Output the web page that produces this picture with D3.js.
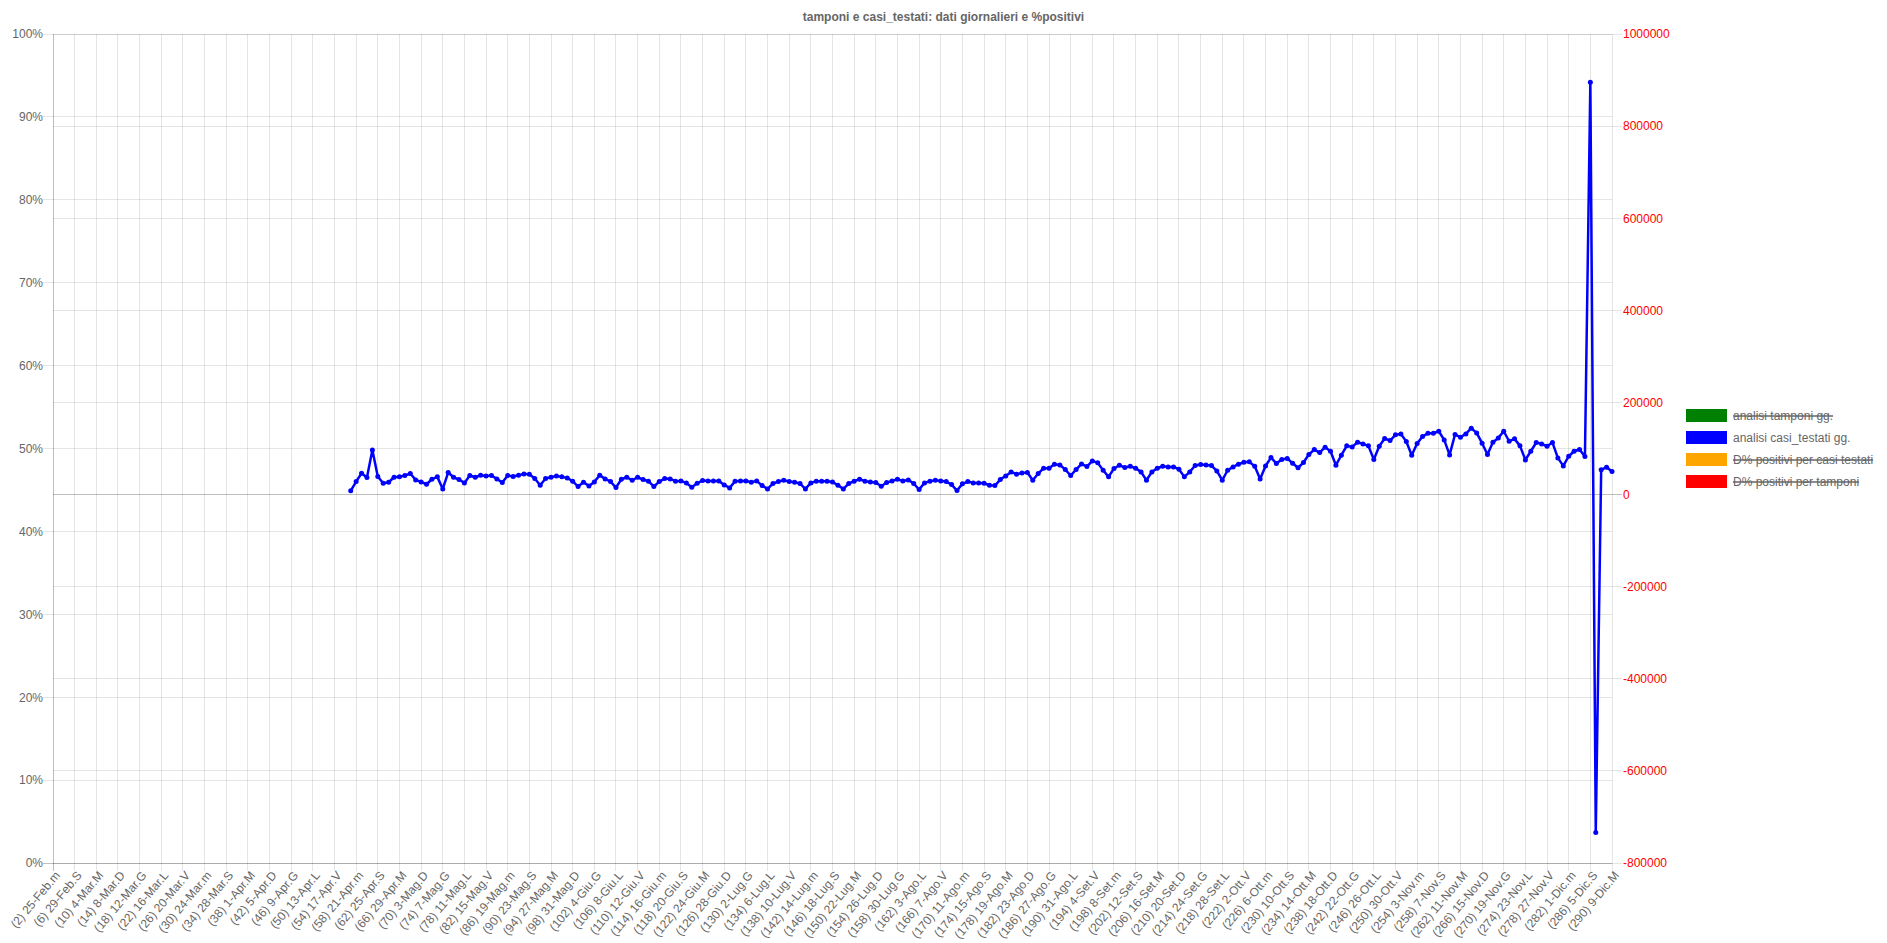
<!DOCTYPE html>
<html><head><meta charset="utf-8">
<script src="https://cdn.jsdelivr.net/npm/d3@7"></script>
<style>body{margin:0;background:#fff}svg{display:block;font-family:"Liberation Sans",Arial,Helvetica,sans-serif}</style>
</head><body><svg id="c" width="1887" height="943"></svg>
<script>
const title = "tamponi e casi_testati: dati giornalieri e %positivi";
const categories = d3.range(2, 291); // day numbers (2)..(290)
const tickLabels = ["(2) 25-Feb.m","(6) 29-Feb.S","(10) 4-Mar.M","(14) 8-Mar.D","(18) 12-Mar.G","(22) 16-Mar.L","(26) 20-Mar.V","(30) 24-Mar.m","(34) 28-Mar.S","(38) 1-Apr.M","(42) 5-Apr.D","(46) 9-Apr.G","(50) 13-Apr.L","(54) 17-Apr.V","(58) 21-Apr.m","(62) 25-Apr.S","(66) 29-Apr.M","(70) 3-Mag.D","(74) 7-Mag.G","(78) 11-Mag.L","(82) 15-Mag.V","(86) 19-Mag.m","(90) 23-Mag.S","(94) 27-Mag.M","(98) 31-Mag.D","(102) 4-Giu.G","(106) 8-Giu.L","(110) 12-Giu.V","(114) 16-Giu.m","(118) 20-Giu.S","(122) 24-Giu.M","(126) 28-Giu.D","(130) 2-Lug.G","(134) 6-Lug.L","(138) 10-Lug.V","(142) 14-Lug.m","(146) 18-Lug.S","(150) 22-Lug.M","(154) 26-Lug.D","(158) 30-Lug.G","(162) 3-Ago.L","(166) 7-Ago.V","(170) 11-Ago.m","(174) 15-Ago.S","(178) 19-Ago.M","(182) 23-Ago.D","(186) 27-Ago.G","(190) 31-Ago.L","(194) 4-Set.V","(198) 8-Set.m","(202) 12-Set.S","(206) 16-Set.M","(210) 20-Set.D","(214) 24-Set.G","(218) 28-Set.L","(222) 2-Ott.V","(226) 6-Ott.m","(230) 10-Ott.S","(234) 14-Ott.M","(238) 18-Ott.D","(242) 22-Ott.G","(246) 26-Ott.L","(250) 30-Ott.V","(254) 3-Nov.m","(258) 7-Nov.S","(262) 11-Nov.M","(266) 15-Nov.D","(270) 19-Nov.G","(274) 23-Nov.L","(278) 27-Nov.V","(282) 1-Dic.m","(286) 5-Dic.S","(290) 9-Dic.M"];
const leftTicks = [0,0.1,0.2,0.3,0.4,0.5,0.6,0.7,0.8,0.9,1];
const rightTicks = [-800000,-600000,-400000,-200000,0,200000,400000,600000,800000,1000000];
const casiStartDay = 57;
const casiTestati = [
8000,28200,46300,36900,97000,39100,24600,26800,37600,38400,
41300,45600,31800,27500,22400,33300,38400,12300,47800,37600,
32600,25300,41300,37600,42000,40500,41300,34000,26100,41300,
39100,42000,44900,44200,34700,20300,34700,37600,40500,38400,
36200,29000,17400,26800,18800,27500,42000,34000,28200,15200,
33300,37600,31100,37600,32600,29000,17400,28200,34700,34000,
29000,29700,25300,15900,24600,30400,29700,29700,29700,21000,
14500,29000,29700,29700,26800,29700,19500,12300,23900,28200,
31100,28200,26800,23900,
12300,25300,29000,29000,29000,27500,20300,12300,23900,29000,
33300,29000,27500,26000,18100,26000,29700,33300,29700,31800,
23900,10900,25300,29000,31100,29700,28200,21700,8700,23200,
28200,25300,25300,24600,20300,19500,32600,40500,49200,44200,
47000,47800,31100,45600,57200,57200,65900,64400,54300,41300,
54300,66600,60800,73100,68800,52800,38400,56500,63700,58600,
61500,57200,49200,31100,49200,57200,61500,60100,60100,55000,
38400,49200,63000,65100,64400,63000,51400,31100,52800,60100,
65900,70200,
71000,61500,34000,62000,80300,67700,76300,78500,
68000,58200,69500,86900,97700,91200,102800,94100,63700,85400,
105700,103500,113600,110000,105700,76000,104900,121600,117300,129600,
131700,115100,85400,110700,125900,133200,133200,137500,118700,86100,
130300,124500,131700,144000,133900,111500,86900,113600,123000,137500,
115800,120900,105700,75300,94100,112900,110000,104900,112900,79600,
62200,83200,94100,97700,82500,895000,-734000,53600,59400,49900];
const legendItems = [
  {label:"analisi tamponi gg.", color:"#008000", hidden:true},
  {label:"analisi casi_testati gg.", color:"#0000ff", hidden:false},
  {label:"D% positivi per casi testati", color:"#ffa500", hidden:true},
  {label:"D% positivi per tamponi", color:"#ff0000", hidden:true}
];

const svg = d3.select("#c");
const L=53, R=1612, T=34, B=863;
const x = d3.scalePoint().domain(categories).range([L,R]);
const yL = d3.scaleLinear().domain([0,1]).range([B,T]);
const yR = d3.scaleLinear().domain([-800000,1000000]).range([B,T]);
const tickDays = tickLabels.map(s => +s.match(/\((\d+)\)/)[1]);
const labelOf = new Map(tickDays.map((d,i)=>[d,tickLabels[i]]));
const grid = "rgba(0,0,0,0.1)", zero = "rgba(0,0,0,0.25)";

// title
svg.append("text").attr("x",943.5).attr("y",21).attr("text-anchor","middle")
  .attr("font-size",12).attr("font-weight","bold").attr("fill","#666").text(title);

const g = svg.append("g");
// vertical grid
g.selectAll(".vg").data(tickDays).join("line")
  .attr("x1",d=>x(d)).attr("x2",d=>x(d)).attr("y1",T).attr("y2",B+8)
  .attr("stroke",(d,i)=>i===0?zero:grid).attr("stroke-width",1).attr("shape-rendering","crispEdges");
// left horizontal grid
g.selectAll(".hl").data(leftTicks).join("line")
  .attr("x1",L-10).attr("x2",R).attr("y1",d=>yL(d)).attr("y2",d=>yL(d))
  .attr("stroke",d=>d===0?zero:grid).attr("shape-rendering","crispEdges");
// right horizontal grid
g.selectAll(".hr").data(rightTicks).join("line")
  .attr("x1",L).attr("x2",R+10).attr("y1",d=>yR(d)).attr("y2",d=>yR(d))
  .attr("stroke",d=>d===0?zero:grid).attr("shape-rendering","crispEdges");

// left axis labels
const axL = svg.append("g").attr("transform",`translate(${L},0)`)
  .call(d3.axisLeft(yL).tickValues(leftTicks).tickFormat(d3.format(".0%")).tickSize(0).tickPadding(10));
axL.select(".domain").remove();
axL.selectAll("text").attr("font-size",12).attr("fill","#666").attr("font-family","Liberation Sans, Arial, sans-serif");
// right axis labels
const axR = svg.append("g").attr("transform",`translate(${R},0)`)
  .call(d3.axisRight(yR).tickValues(rightTicks).tickFormat(d=>String(d)).tickSize(0).tickPadding(11));
axR.select(".domain").remove();
axR.selectAll("text").attr("font-size",12).attr("fill","#ff0000").attr("font-family","Liberation Sans, Arial, sans-serif");
// x axis labels
const axX = svg.append("g").attr("transform",`translate(0,${B})`)
  .call(d3.axisBottom(x).tickValues(tickDays).tickFormat(d=>labelOf.get(d)).tickSize(0).tickPadding(0));
axX.select(".domain").remove();
axX.selectAll("text").attr("font-size",12).attr("fill","#666").attr("font-family","Liberation Sans, Arial, sans-serif")
  .attr("text-anchor","end").attr("transform","translate(4,10) rotate(-50)").attr("dy","0.35em").attr("y",0).attr("x",0);

// series
const data = categories.map(d => ({d, v: d>=casiStartDay ? casiTestati[d-casiStartDay] : null}));
const line = d3.line().defined(p=>p.v!==null).x(p=>x(p.d)).y(p=>yR(p.v));
svg.append("path").datum(data).attr("d",line).attr("fill","none").attr("stroke","#0000ff")
  .attr("stroke-width",2.5).attr("stroke-linejoin","round");
svg.selectAll(".pt").data(data.filter(p=>p.v!==null)).join("circle")
  .attr("cx",p=>x(p.d)).attr("cy",p=>yR(p.v)).attr("r",2.5).attr("fill","#0000ff");

// legend
const lg = svg.append("g").attr("transform","translate(1686,409)");
legendItems.forEach((it,i)=>{
  const row = lg.append("g").attr("transform",`translate(0,${i*22})`);
  row.append("rect").attr("width",41).attr("height",13).attr("fill",it.color);
  const t = row.append("text").attr("x",47).attr("y",6.5).attr("dy","0.35em")
    .attr("font-size",12).attr("fill","#666").text(it.label);
  if(it.hidden){
    const w = t.node().getComputedTextLength();
    row.append("line").attr("x1",47).attr("x2",47+w).attr("y1",7).attr("y2",7)
      .attr("stroke","#666").attr("stroke-width",1.5);
  }
});
</script></body></html>
